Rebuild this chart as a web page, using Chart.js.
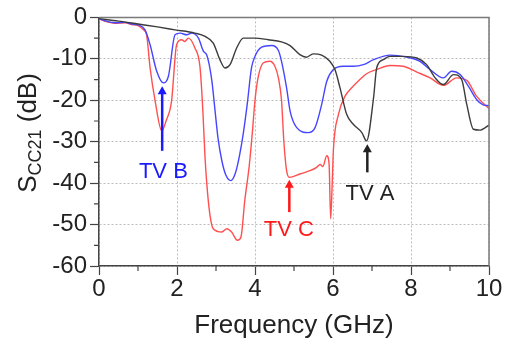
<!DOCTYPE html>
<html>
<head>
<meta charset="utf-8">
<script src="https://cdn.jsdelivr.net/npm/chart.js@4.4.1/dist/chart.umd.min.js"></script>
<style>
  html, body { margin: 0; padding: 0; background: #fff; }
</style>
</head>
<body>
<canvas id="chart" width="509" height="344"></canvas>
<script>
// values: frequency in GHz, S_CC21 in dB
const freqA = [0, 0.5, 1.0, 1.5, 1.95, 2.46, 2.72, 2.93, 3.1, 3.23, 3.36, 3.53, 3.7, 4.0, 4.34, 4.68, 4.9, 5.15, 5.32, 5.49, 5.71, 5.92, 6.05, 6.18, 6.35, 6.52, 6.74, 6.86, 7.04, 7.12, 7.29, 7.46, 7.8, 8.15, 8.4, 8.62, 8.83, 9.09, 9.3, 9.43, 9.6, 9.77, 10];
const dbA = [-0.3, -0.9, -1.6, -2.3, -3.0, -3.8, -4.6, -6.2, -10.2, -12.2, -11.4, -7.4, -5.0, -5.0, -5.4, -5.9, -6.8, -9.0, -9.6, -8.8, -9.1, -10.6, -12.6, -17.0, -23.4, -25.8, -27.8, -29.8, -19.4, -12.2, -10.2, -9.4, -9.4, -9.8, -11.4, -14.6, -16.2, -13.8, -15.0, -21.0, -27.0, -27.2, -26.0];

const freqB = [0, 0.15, 0.41, 0.67, 0.84, 1.01, 1.18, 1.31, 1.48, 1.65, 1.78, 1.95, 2.08, 2.25, 2.38, 2.55, 2.68, 2.76, 2.89, 2.97, 3.05, 3.15, 3.25, 3.38, 3.5, 3.6, 3.7, 3.8, 3.91, 4.0, 4.17, 4.43, 4.6, 4.68, 4.81, 4.9, 5.07, 5.37, 5.54, 5.71, 5.84, 6.01, 6.26, 6.52, 6.78, 7.04, 7.46, 7.89, 8.23, 8.49, 8.83, 9.04, 9.26, 9.47, 9.68, 9.85, 10];
const dbB = [-0.3, -0.8, -1.3, -1.2, -1.6, -1.8, -3.0, -6.6, -13.0, -15.8, -14.2, -4.2, -3.8, -4.2, -3.8, -5.0, -8.2, -9.0, -15.0, -22.0, -29.0, -34.6, -38.0, -39.4, -37.5, -33.5, -28.0, -21.0, -12.2, -9.4, -7.2, -6.8, -8.0, -10.6, -17.0, -22.6, -26.6, -27.8, -26.6, -21.0, -15.4, -12.6, -11.8, -11.8, -11.4, -10.2, -9.1, -9.6, -10.6, -12.6, -14.6, -13.0, -13.8, -16.6, -19.8, -21.1, -21.3];

const freqC = [0, 0.15, 0.41, 0.67, 0.84, 1.0, 1.14, 1.22, 1.31, 1.44, 1.61, 1.72, 1.86, 1.99, 2.12, 2.2, 2.29, 2.46, 2.59, 2.66, 2.72, 2.78, 2.85, 2.93, 3.15, 3.28, 3.4, 3.55, 3.64, 3.74, 3.85, 3.93, 4.0, 4.08, 4.21, 4.38, 4.51, 4.6, 4.68, 4.74, 4.81, 4.88, 5.15, 5.41, 5.58, 5.67, 5.74, 5.84, 5.9, 5.94, 5.98, 6.01, 6.14, 6.31, 6.48, 6.69, 6.86, 7.12, 7.46, 7.8, 8.15, 8.49, 8.83, 9.17, 9.43, 9.68, 10];
const dbC = [-0.3, -0.9, -1.4, -1.3, -1.7, -2.0, -3.0, -4.2, -12.2, -20.2, -27.4, -25.0, -20.2, -6.6, -5.4, -5.8, -5.0, -7.4, -12.0, -22.0, -34.0, -42.0, -48.0, -51.0, -51.8, -51.0, -51.8, -53.8, -53.0, -44.0, -36.0, -28.0, -20.0, -14.5, -11.0, -10.6, -11.8, -14.6, -20.0, -30.0, -37.0, -38.6, -37.8, -37.0, -36.2, -35.5, -36.0, -33.4, -35.4, -48.6, -40.0, -32.0, -23.4, -19.0, -17.0, -15.0, -13.6, -12.6, -11.6, -11.8, -13.2, -14.6, -16.4, -14.6, -15.2, -19.0, -22.0];

const xTicks = [0, 2, 4, 6, 8, 10];
const yTicks = [0, -10, -20, -30, -40, -50, -60];

// arrow annotations (data coords)
const tvNames = ["TV A", "TV B", "TV C"];
const tvColors = ["#222222", "#1a1aff", "#ff1a1a"];
const arrowX = [6.88, 1.62, 4.88];
const arrowFrom = [-37.4, -32.2, -47.0];
const arrowTo = [-30.6, -16.6, -39.2];
const labelX = [6.95, 1.65, 4.87];
const labelY = [-42.6, -37.4, -51.4];

const FONT = "'Liberation Sans', Arial, sans-serif";

function pts(xs, ys) {
  return xs.map((x, i) => ({ x: x, y: ys[i] }));
}

// extra drawing: frame, minor ticks, axis titles, arrows
const extras = {
  id: "extras",
  afterDraw(chart) {
    const ctx = chart.ctx;
    const a = chart.chartArea;
    const x = chart.scales.x;
    const y = chart.scales.y;
    ctx.save();

    ctx.strokeStyle = "#7a7a7a";
    ctx.lineWidth = 1.5;
    ctx.beginPath();
    ctx.moveTo(a.left, a.top);
    ctx.lineTo(a.right, a.top);
    ctx.lineTo(a.right, a.bottom);
    ctx.stroke();

    // minor ticks
    ctx.strokeStyle = "#444";
    ctx.lineWidth = 1.2;
    ctx.beginPath();
    for (let v = 1; v < 10; v += 2) {
      const px = x.getPixelForValue(v);
      ctx.moveTo(px, a.bottom);
      ctx.lineTo(px, a.bottom + 5);
    }
    for (let v = -55; v < 0; v += 10) {
      const py = y.getPixelForValue(v);
      ctx.moveTo(a.left, py);
      ctx.lineTo(a.left - 5, py);
    }
    ctx.stroke();

    // x title
    ctx.fillStyle = "#222";
    ctx.font = "26px " + FONT;
    ctx.textAlign = "center";
    ctx.textBaseline = "alphabetic";
    ctx.fillText("Frequency (GHz)", (a.left + a.right) / 2, 333);

    // y title with subscript
    ctx.save();
    ctx.translate(36, 133);
    ctx.rotate(-Math.PI / 2);
    ctx.textAlign = "left";
    const big = "26px " + FONT;
    const small = "18px " + FONT;
    ctx.font = big;
    const wS = ctx.measureText("S").width;
    const wRest = ctx.measureText(" (dB)").width;
    ctx.font = small;
    const wSub = ctx.measureText("CC21").width;
    let cx = -(wS + wSub + wRest) / 2;
    ctx.font = big;
    ctx.fillText("S", cx, 0);
    cx += wS;
    ctx.font = small;
    ctx.fillText("CC21", cx, 5);
    cx += wSub;
    ctx.font = big;
    ctx.fillText(" (dB)", cx, 0);
    ctx.restore();

    // arrows and labels
    ctx.font = "22px " + FONT;
    ctx.textAlign = "center";
    ctx.textBaseline = "middle";
    for (let i = 0; i < tvNames.length; i++) {
      const px = x.getPixelForValue(arrowX[i]);
      const p0 = y.getPixelForValue(arrowFrom[i]);
      const p1 = y.getPixelForValue(arrowTo[i]);
      ctx.strokeStyle = tvColors[i];
      ctx.fillStyle = tvColors[i];
      ctx.lineWidth = 2.5;
      ctx.beginPath();
      ctx.moveTo(px, p0);
      ctx.lineTo(px, p1 + 6);
      ctx.stroke();
      ctx.beginPath();
      ctx.moveTo(px, p1);
      ctx.lineTo(px - 4.5, p1 + 8);
      ctx.lineTo(px + 4.5, p1 + 8);
      ctx.closePath();
      ctx.fill();
      ctx.fillText(tvNames[i], x.getPixelForValue(labelX[i]), y.getPixelForValue(labelY[i]));
    }
    ctx.restore();
  }
};

const lineStyle = {
  borderWidth: 1.4,
  pointRadius: 0,
  cubicInterpolationMode: "monotone",
  fill: false
};

new Chart(document.getElementById("chart"), {
  type: "line",
  data: {
    datasets: [
      Object.assign({ label: "TV A", data: pts(freqA, dbA), borderColor: "rgb(60,60,60)" }, lineStyle),
      Object.assign({ label: "TV B", data: pts(freqB, dbB), borderColor: "rgb(70,70,255)" }, lineStyle),
      Object.assign({ label: "TV C", data: pts(freqC, dbC), borderColor: "rgb(255,80,80)" }, lineStyle)
    ]
  },
  options: {
    responsive: false,
    animation: false,
    layout: { padding: { top: 16, right: 20, left: 0, bottom: 0 } },
    plugins: { legend: { display: false }, tooltip: { enabled: false } },
    scales: {
      x: {
        type: "linear",
        min: 0,
        max: 10,
        afterBuildTicks(s) { s.ticks = xTicks.map(v => ({ value: v })); },
        afterFit(s) { s.height = 78; },
        ticks: { color: "#222", font: { size: 24, family: FONT }, padding: 0, maxRotation: 0 },
        grid: { color: "#bdbdbd", lineWidth: 1, tickLength: 9, tickColor: "#444", tickWidth: 1.2 },
        border: { color: "#444", width: 1.5, dash: [2, 2] }
      },
      y: {
        min: -60,
        max: 0,
        afterBuildTicks(s) { s.ticks = yTicks.map(v => ({ value: v })); },
        afterFit(s) { s.width = 99; },
        ticks: { color: "#222", font: { size: 24, family: FONT }, padding: 3 },
        grid: { color: "#bdbdbd", lineWidth: 1, tickLength: 9, tickColor: "#444", tickWidth: 1.2 },
        border: { color: "#444", width: 1.5, dash: [2, 2] }
      }
    }
  },
  plugins: [extras]
});
</script>
</body>
</html>
